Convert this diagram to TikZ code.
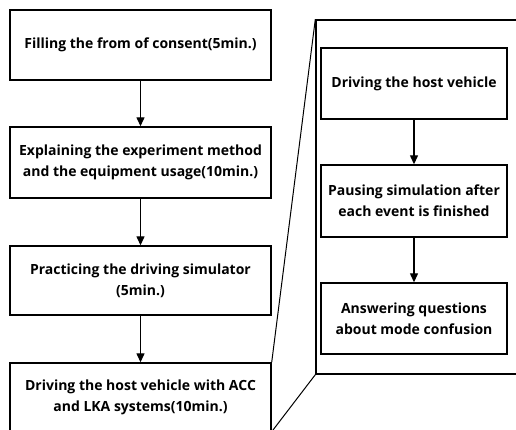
\documentclass[tikz,border=0pt]{standalone}
\usepackage{fontspec}
\setmainfont{Open Sans}
\usetikzlibrary{arrows.meta}

\begin{document}
\begin{tikzpicture}[x=1pt, y=-1pt,
		stage/.style={draw, line width=1.4pt, align=center, inner sep=0pt,
			minimum width=261pt, minimum height=70pt,
			font=\bfseries\fontsize{14}{21}\selectfont},
		substage/.style={stage, minimum width=186pt, minimum height=71pt},
		flow/.style={line width=1.3pt, -{Triangle[length=9pt, width=8pt]}}]
		\useasboundingbox (0,0) rectangle (516,430);
		\clip (0,0) rectangle (516,430);

		% main procedure
		\node[stage] (s1) at (140.5,45) {Filling the from of consent(5min.)};
		\node[stage, minimum height=71pt] (s2) at (140.5,162.5) {Explaining the experiment method\\and the equipment usage(10min.)};
		\node[stage, minimum height=69pt] (s3) at (140.5,280.5) {Practicing the driving simulator\\(5min.)};
		\node[stage, minimum height=68pt] (s4) at (140.5,397) {Driving the host vehicle with ACC\\and LKA systems(10min.)};

		% detail of the driving session
		\node[draw, line width=1.4pt, minimum width=214pt, minimum height=354pt] (zoom) at (423,197) {};
		\node[substage] (d1) at (414,83.5) {Driving the host vehicle};
		\node[substage, minimum height=72pt] (d2) at (414,201) {Pausing simulation after\\each event is finished};
		\node[substage] (d3) at (414,318.5) {Answering questions\\about mode confusion};

		\foreach \a/\b in {s1/s2, s2/s3, s3/s4, d1/d2, d2/d3}{
			\draw[flow] (\a.south) -- (\b.north);
		}

		\draw[line width=1pt] (zoom.north west) -- (s4.north east);
		\draw[line width=1pt] (zoom.south west) -- (s4.south east);
	\end{tikzpicture}
\end{document}
